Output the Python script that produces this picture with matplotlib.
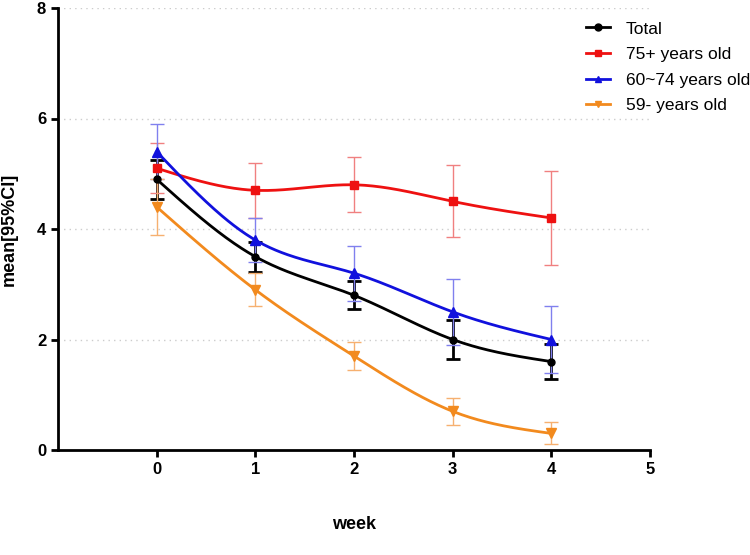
import numpy as np
import matplotlib.pyplot as plt

plt.rcParams['font.family'] = ['Liberation Sans', 'DejaVu Sans']

weeks = [0, 1, 2, 3, 4]
total = [4.9, 3.5, 2.8, 2.0, 1.6]
total_err = [0.35, 0.27, 0.25, 0.35, 0.32]
old75 = [5.1, 4.7, 4.8, 4.5, 4.2]
old75_err = [0.45, 0.5, 0.5, 0.65, 0.85]
mid60 = [5.4, 3.8, 3.2, 2.5, 2.0]
mid60_err = [0.5, 0.4, 0.5, 0.6, 0.6]
young59 = [4.4, 2.9, 1.7, 0.7, 0.3]
young59_err = [0.5, 0.3, 0.25, 0.25, 0.2]


def smooth(x, y, n=200):
    # natural cubic spline through the points
    x = np.asarray(x, float)
    y = np.asarray(y, float)
    k = len(x)
    h = np.diff(x)
    A = np.zeros((k, k))
    b = np.zeros(k)
    A[0, 0] = A[-1, -1] = 1
    for i in range(1, k - 1):
        A[i, i - 1] = h[i - 1]
        A[i, i] = 2 * (h[i - 1] + h[i])
        A[i, i + 1] = h[i]
        b[i] = 6 * ((y[i + 1] - y[i]) / h[i] - (y[i] - y[i - 1]) / h[i - 1])
    M = np.linalg.solve(A, b)
    xs = np.linspace(x[0], x[-1], n)
    idx = np.clip(np.searchsorted(x, xs) - 1, 0, k - 2)
    x0, x1 = x[idx], x[idx + 1]
    hh = x1 - x0
    a = (x1 - xs) / hh
    c = (xs - x0) / hh
    ys = a * y[idx] + c * y[idx + 1] + ((a ** 3 - a) * M[idx] + (c ** 3 - c) * M[idx + 1]) * hh ** 2 / 6
    return xs, ys


fig = plt.figure(figsize=(7.5, 5.55), dpi=100)
ax = fig.add_axes([58 / 750, 1 - 450 / 555, 592 / 750, 442 / 555])

series = [
    ("Total", total, total_err, "black", "black", "o", 2.0, 5),
    ("75+ years old", old75, old75_err, "#ee1111", "#f08080", "s", 1.0, 6),
    ("60~74 years old", mid60, mid60_err, "#1111dd", "#8080ee", "^", 1.0, 7),
    ("59- years old", young59, young59_err, "#f28a1e", "#f6b070", "v", 1.0, 7),
]

for label, vals, errs, col, ecol, mk, elw, ms in series:
    ax.errorbar(weeks, vals, yerr=errs, fmt='none', ecolor=ecol, elinewidth=elw,
                capsize=5, capthick=elw, zorder=2)
    xs, ys = smooth(weeks, vals)
    ax.plot(xs, ys, color=col, lw=2, zorder=3)
    ax.plot(weeks, vals, linestyle='none', marker=mk, color=col, ms=ms, zorder=4)
    ax.plot([], [], color=col, marker=mk, ms=5, lw=2, label=label)

for gy in [2, 4, 6, 8]:
    ax.plot([-1, 5], [gy, gy], color='#cccccc', lw=1, linestyle=(0, (1, 3)), zorder=1)

ax.set_xlim(-1, 5)
ax.set_ylim(0, 8)
ax.set_xticks([0, 1, 2, 3, 4, 5])
ax.set_yticks([0, 2, 4, 6, 8])
ax.spines['top'].set_visible(False)
ax.spines['right'].set_visible(False)
ax.spines['left'].set_linewidth(2)
ax.spines['bottom'].set_linewidth(2)
ax.tick_params(direction='out', width=2, length=5, labelsize=12)
for t in ax.get_xticklabels() + ax.get_yticklabels():
    t.set_fontweight('bold')

ax.set_xlabel('week', fontsize=13, fontweight='bold', labelpad=28)
ax.set_ylabel('mean[95%CI]', fontsize=13, fontweight='bold', labelpad=14)

ax.legend(loc='upper left', bbox_to_anchor=(0.865, 1.005), frameon=False, fontsize=12.5,
          handlelength=1.4, labelspacing=0.6, handletextpad=0.9)

fig.savefig('out.png', dpi=100)
